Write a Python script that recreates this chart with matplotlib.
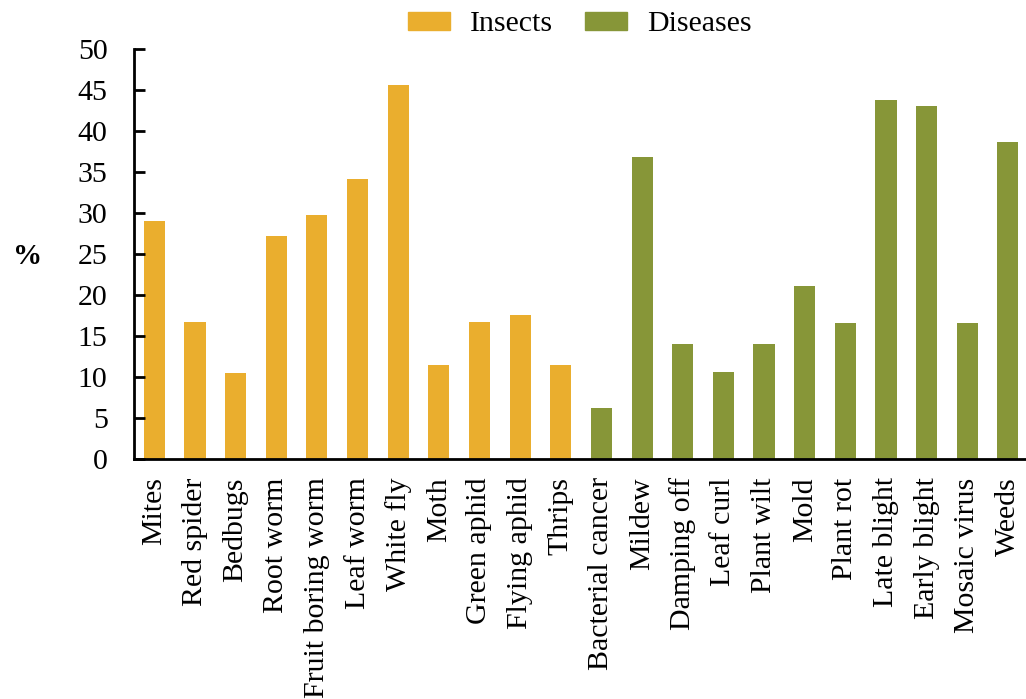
import matplotlib
matplotlib.use("Agg")
import matplotlib.pyplot as plt
from matplotlib.patches import Patch

plt.rcParams["font.family"] = ["Liberation Serif", "DejaVu Serif"]

insects = ["Mites", "Red spider", "Bedbugs", "Root worm", "Fruit boring worm",
           "Leaf worm", "White fly", "Moth", "Green aphid", "Flying aphid", "Thrips"]
insect_vals = [29.0, 16.7, 10.5, 27.2, 29.8, 34.1, 45.6, 11.5, 16.7, 17.6, 11.5]

diseases = ["Bacterial cancer", "Mildew", "Damping off", "Leaf curl", "Plant wilt",
            "Mold", "Plant rot", "Late blight", "Early blight", "Mosaic virus", "Weeds"]
disease_vals = [6.2, 36.8, 14.0, 10.6, 14.0, 21.1, 16.6, 43.8, 43.0, 16.6, 38.7]

INSECT_COLOR = "#EAAE2E"
DISEASE_COLOR = "#879638"

labels = insects + diseases
values = insect_vals + disease_vals
colors = [INSECT_COLOR] * len(insects) + [DISEASE_COLOR] * len(diseases)
x = list(range(len(labels)))

fig = plt.figure(figsize=(10.26, 6.99), dpi=100)
ax = fig.add_axes([0.1306, 0.343, 0.8684, 0.587])

ax.bar(x, values, width=0.52, color=colors)

ax.set_xlim(-0.5, 21.42)
ax.set_ylim(0, 50)
ax.set_yticks(range(0, 51, 5))
ax.set_xticks(x)
ax.set_xticklabels(labels, rotation=90, fontsize=21.5)
ax.tick_params(axis="x", length=0, pad=13)
ax.tick_params(axis="y", direction="in", length=8, width=2, labelsize=21.5, pad=19)

for side in ("top", "right"):
    ax.spines[side].set_visible(False)
for side in ("left", "bottom"):
    ax.spines[side].set_linewidth(2)

ax.set_ylabel("%", rotation=0, fontsize=21, fontweight="bold", labelpad=0)
ax.yaxis.set_label_coords(-0.12, 0.495)
ax.yaxis.label.set_verticalalignment("center")

handles = [Patch(color=INSECT_COLOR, label="Insects"),
           Patch(color=DISEASE_COLOR, label="Diseases")]
fig.legend(handles=handles, loc="center", bbox_to_anchor=(0.565, 0.965), ncol=2,
           frameon=False, prop={"size": 21.5}, handlelength=1.4, handleheight=0.53,
           handletextpad=0.67, columnspacing=1.07)

fig.savefig("out.png", dpi=100)
